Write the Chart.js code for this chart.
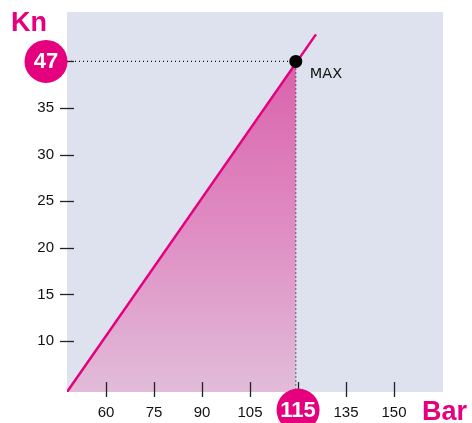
<!DOCTYPE html>
<html>
<head>
<meta charset="utf-8">
<script src="https://cdn.jsdelivr.net/npm/chart.js@4.4.1/dist/chart.umd.min.js"></script>
<style>
  body { margin: 0; background: #fff; }
  #wrap { width: 472px; height: 423px; }
</style>
</head>
<body>
<div id="wrap"><canvas id="forceChart" width="472" height="423"></canvas></div>
<script>
// axis ticks (the chart is schematic: the 120 / 40 slots carry the "115" / "47" labels)
const xTickValues = [60, 75, 90, 105, 120, 135, 150];
const xTickLabels = ['60', '75', '90', '105', '115', '135', '150'];
const yTickValues = [10, 15, 20, 25, 30, 35, 40];
const yTickLabels = ['10', '15', '20', '25', '30', '35', '47'];

// force line and the max working point
const forceLine = [{x: 47.8, y: 4.53}, {x: 125.6, y: 42.9}];
const maxPoint = {x: 119.3, y: 40};
const maxLabel = 'MAX';
const xTitle = 'Bar';
const yTitle = 'Kn';

const PINK = '#e5007d';

const fillArea = [forceLine[0], maxPoint];
const guideLine = [{x: 47.8, y: maxPoint.y}, maxPoint, {x: maxPoint.x, y: 4.53}];

const decoPlugin = {
    id: 'deco',
    beforeDatasetsDraw(chart) {
        const {ctx, chartArea: a} = chart;
        ctx.save();
        ctx.fillStyle = '#dee2ee';
        ctx.fillRect(a.left, a.top, a.right - a.left, a.bottom - a.top);
        ctx.restore();
    },
    afterDatasetsDraw(chart) {
        const {ctx, chartArea: a, scales} = chart;
        const xs = scales.x, ys = scales.y;
        ctx.save();
        // tick marks crossing the plot edges
        ctx.strokeStyle = '#222';
        ctx.lineWidth = 1.3;
        yTickValues.forEach(v => {
            const y = Math.round(ys.getPixelForValue(v)) + 0.5;
            ctx.beginPath();
            ctx.moveTo(a.left - 7, y);
            ctx.lineTo(a.left + 7, y);
            ctx.stroke();
        });
        xTickValues.forEach(v => {
            const x = Math.round(xs.getPixelForValue(v)) + 0.5;
            ctx.beginPath();
            ctx.moveTo(x, a.bottom - 10);
            ctx.lineTo(x, a.bottom + 5);
            ctx.stroke();
        });

        // highlighted tick labels in pink circles
        const badge = (x, y, text) => {
            ctx.fillStyle = PINK;
            ctx.beginPath();
            ctx.arc(x, y, 21.5, 0, Math.PI * 2);
            ctx.fill();
            ctx.fillStyle = '#fff';
            ctx.font = 'bold 22px "Liberation Sans", Arial, sans-serif';
            ctx.textAlign = 'center';
            ctx.textBaseline = 'middle';
            ctx.fillText(text, x, y + 1);
        };
        const yi = yTickLabels.indexOf('47');
        badge(46, ys.getPixelForValue(yTickValues[yi]), yTickLabels[yi]);
        const xi = xTickLabels.indexOf('115');
        badge(xs.getPixelForValue(xTickValues[xi]), 410, xTickLabels[xi]);

        // axis titles
        ctx.fillStyle = PINK;
        ctx.font = 'bold 27px "Liberation Sans", Arial, sans-serif';
        ctx.textBaseline = 'alphabetic';
        ctx.textAlign = 'left';
        ctx.fillText(yTitle, 11, 31);
        ctx.fillText(xTitle, 422, 420);

        // MAX label
        ctx.fillStyle = '#111';
        ctx.font = '14.5px "DejaVu Sans", sans-serif';
        ctx.fillText(maxLabel, xs.getPixelForValue(maxPoint.x) + 14, ys.getPixelForValue(maxPoint.y) + 17);
        ctx.restore();
    }
};

const tickFont = {family: '"Liberation Sans Narrow", "Liberation Sans", Arial, sans-serif', size: 15};

new Chart(document.getElementById('forceChart'), {
    type: 'line',
    data: {
        datasets: [
            {
                data: [maxPoint],
                pointRadius: 6.5,
                pointBackgroundColor: '#000',
                pointBorderWidth: 0,
                showLine: false,
                order: 0
            },
            {
                data: forceLine,
                borderColor: PINK,
                borderWidth: 2.5,
                pointRadius: 0,
                fill: false,
                order: 1
            },
            {
                data: guideLine,
                borderColor: '#111',
                borderWidth: 1.2,
                borderDash: [1, 3],
                pointRadius: 0,
                fill: false,
                order: 2
            },
            {
                data: fillArea,
                borderWidth: 0,
                pointRadius: 0,
                fill: 'start',
                backgroundColor: (c) => {
                    const area = c.chart.chartArea;
                    if (!area) return 'rgba(224,112,180,0.7)';
                    const g = c.chart.ctx.createLinearGradient(0, area.top + 50, 0, area.bottom);
                    g.addColorStop(0, '#da62ab');
                    g.addColorStop(0.5, '#df8cc3');
                    g.addColorStop(1, '#e1bcd9');
                    return g;
                },
                order: 3
            }
        ]
    },
    options: {
        responsive: false,
        animation: false,
        layout: {padding: {top: 12, right: 29, left: 0, bottom: 0}},
        plugins: {
            legend: {display: false},
            tooltip: {enabled: false}
        },
        scales: {
            x: {
                type: 'linear',
                min: 47.8,
                max: 165.3,
                grid: {display: false, drawTicks: false},
                border: {display: false},
                afterBuildTicks: (s) => { s.ticks = xTickValues.map(v => ({value: v})); },
                afterFit: (s) => { s.height = 31; s.paddingLeft = 0; s.paddingRight = 0; },
                ticks: {
                    padding: 12,
                    color: '#111',
                    font: tickFont,
                    maxRotation: 0,
                    callback: (v, i) => xTickLabels[i] === '115' ? '' : xTickLabels[i]
                }
            },
            y: {
                type: 'linear',
                min: 4.53,
                max: 45.3,
                grid: {display: false, drawTicks: false},
                border: {display: false},
                afterBuildTicks: (s) => { s.ticks = yTickValues.map(v => ({value: v})); },
                afterFit: (s) => { s.width = 67; s.paddingTop = 0; s.paddingBottom = 0; },
                ticks: {
                    padding: 13,
                    color: '#111',
                    font: tickFont,
                    callback: (v, i) => yTickLabels[i] === '47' ? '' : yTickLabels[i]
                }
            }
        }
    },
    plugins: [decoPlugin]
});
</script>
</body>
</html>
